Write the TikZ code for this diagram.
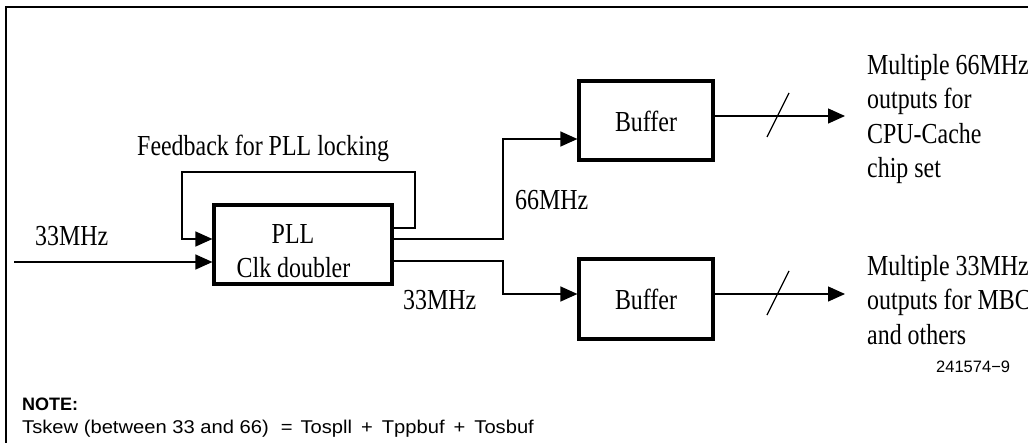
\documentclass[tikz,border=0pt]{standalone}
\usepackage{fontspec}
\setmainfont{Liberation Serif}[FakeStretch=0.825]
\setsansfont{Liberation Sans}
\newfontfamily\sfwide{Liberation Sans}[FakeStretch=1.09]
\usetikzlibrary{arrows.meta}
\tikzset{
  blk/.style={draw, line width=3.2pt, inner sep=0pt},
  wire/.style={line width=1.3pt},
  arr/.style={wire, -{Triangle[length=17pt,width=15pt]}},
  lbl/.style={font=\fontsize{29}{34}\selectfont, inner sep=0pt, anchor=base west},
  lblc/.style={font=\fontsize{29}{34}\selectfont, inner sep=0pt, anchor=base},
  sfl/.style={font=\sfwide\fontsize{18.5}{20}\selectfont, inner sep=0pt, anchor=base west},
}
\begin{document}
\begin{tikzpicture}[x=1pt,y=-1pt]
\useasboundingbox (0,0) rectangle (1028,442);
% frame
\draw[line width=1.5pt] (1030,7) -- (6,7) -- (6,444);

% blocks
\node[blk, minimum width=178pt, minimum height=79pt] (pll) at (303,244.5) {};
\node[blk, minimum width=134pt, minimum height=79pt] (buf1) at (646,120.5) {};
\node[blk, minimum width=134pt, minimum height=80pt] (buf2) at (646,299) {};

% block texts
\node[lblc] (plla) at (293,243) {PLL};
\node[lblc] (pllb) at (293.5,277) {Clk doubler};
\node[lblc] (b1t) at (646,131) {Buffer};
\node[lblc] (b2t) at (646,309) {Buffer};

% coordinates
\coordinate (inp) at (14,262);
\coordinate (o1) at (845,116);
\coordinate (o2) at (845,294);

% feedback loop
\draw[arr] (pll.east |- 0,228) -- (415,228) -- (415,172) -- (182,172) -- (182,239) -- (pll.west |- 0,239);
% input
\draw[arr] (inp) -- (pll.west |- inp);
% 66 MHz branch
\draw[arr] (pll.east |- 0,239) -- (503,239) -- (503,139) -- (buf1.west |- 0,139);
% 33 MHz branch
\draw[arr] (pll.east |- 0,261) -- (503,261) -- (503,294) -- (buf2.west |- 0,294);
% outputs
\draw[arr] (buf1.east |- o1) -- (o1);
\draw[arr] (buf2.east |- o2) -- (o2);
% bus slashes
\draw[wire] (767,137) -- (789,93);
\draw[wire] (767,315) -- (789,271);

% labels
\node[lbl] (fb) at (137,155) {Feedback for PLL locking};
\node[lbl] (inl) at (35,245) {33MHz};
\node[lbl] (l66) at (515,209) {66MHz};
\node[lbl] (l33) at (403,309) {33MHz};

\node[lbl] (r1a) at (867,74) {Multiple 66MHz};
\node[lbl] (r1b) at (867,108.5) {outputs for};
\node[lbl] (r1c) at (867,143) {CPU-Cache};
\node[lbl] (r1d) at (867,177.5) {chip set};

\node[lbl] (r2a) at (867,275) {Multiple 33MHz};
\node[lbl] (r2b) at (867,309.5) {outputs for MBC};
\node[lbl] (r2c) at (867,344) {and others};

\node[sfl, font=\sffamily\fontsize{16.5}{20}\selectfont] (fig) at (936,372) {241574\char"2212 9};

\node[sfl, font=\sffamily\bfseries\fontsize{18}{20}\selectfont] (note) at (22,410) {NOTE:};
\node[sfl] (eq) at (22,433) {Tskew (between 33 and 66)\hspace{12pt}=\hspace{8pt}Tospll\hspace{9pt}+\hspace{9pt}Tppbuf\hspace{9pt}+\hspace{9pt}Tosbuf};
\end{tikzpicture}
\end{document}
